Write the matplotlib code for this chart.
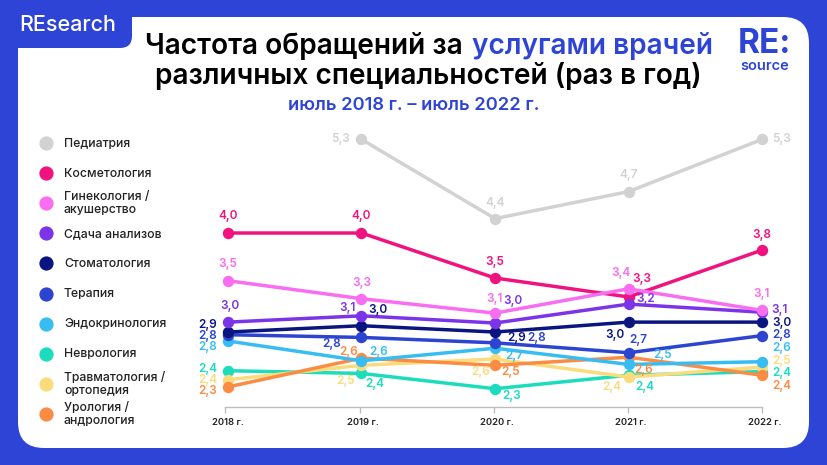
import matplotlib.pyplot as plt
from matplotlib.patches import FancyBboxPatch, Rectangle
from matplotlib.transforms import ScaledTranslation

plt.rcParams['font.family'] = ['Inter', 'DejaVu Sans']

years = ['2018 г.', '2019 г.', '2020 г.', '2021 г.', '2022 г.']

names = ['Педиатрия', 'Косметология', 'Гинекология /\nакушерство', 'Сдача анализов',
         'Стоматология', 'Терапия', 'Эндокринология', 'Неврология',
         'Травматология /\nортопедия', 'Урология /\nандрология']
colors = ['#D2D2D2', '#F0137F', '#F96DF0', '#7B34E8', '#0A1580',
          '#2C44CF', '#38BDF2', '#1BDDBD', '#FBDC7C', '#FB8C44']

# heights as drawn in the picture (the original chart does not follow its own labels exactly)
pediatria = [None, 5.04, 4.16, 4.46, 5.04]
kosmetologia = [4.0, 4.0, 3.5, 3.29, 3.81]
ginekologia = [3.47, 3.27, 3.11, 3.38, 3.14]
analizy = [3.01, 3.08, 3.0, 3.21, 3.12]
stomatologia = [2.9, 2.97, 2.9, 3.01, 3.01]
terapia = [2.87, 2.84, 2.78, 2.67, 2.86]
endokrinologia = [2.8, 2.58, 2.72, 2.54, 2.57]
nevrologia = [2.47, 2.44, 2.27, 2.42, 2.46]
travmatologia = [2.37, 2.53, 2.6, 2.4, 2.51]
urologia = [2.29, 2.61, 2.53, 2.62, 2.42]
series = [pediatria, kosmetologia, ginekologia, analizy, stomatologia,
          terapia, endokrinologia, nevrologia, travmatologia, urologia]

# printed labels
labels = [
    ['', '5,3', '4,4', '4,7', '5,3'],
    ['4,0', '4,0', '3,5', '3,3', '3,8'],
    ['3,5', '3,3', '3,1', '3,4', '3,1'],
    ['3,0', '3,1', '3,0', '3,2', '3,1'],
    ['2,9', '3,0', '2,9', '3,0', '3,0'],
    ['2,8', '2,8', '2,8', '2,7', '2,8'],
    ['2,8', '2,6', '2,7', '2,5', '2,6'],
    ['2,4', '2,4', '2,3', '2,4', '2,4'],
    ['2,4', '2,5', '2,6', '2,4', '2,5'],
    ['2,3', '2,6', '2,5', '2,6', '2,4'],
]

# label offsets from the point, px (x right, y up)
offsets = [
    [(0, 0), (-21, 0), (0, 16), (0, 17), (20, 0)],
    [(0, 17), (0, 17), (0, 16), (13, 18), (0, 15)],
    [(0, 17), (0, 16), (0, 14), (-8, 16), (0, 16)],
    [(2, 16), (-14, 8), (18, 22), (17, 5), (17, 2)],
    [(-20, 7), (16, 16), (22, -6), (-14, -13), (20, -1)],
    [(-20, -1), (-30, -7), (42, 5), (10, 13), (20, 1)],
    [(-20, -6), (17, 9), (19, -8), (34, 9), (20, 14)],
    [(-20, 2), (13, -11), (17, -7), (16, -12), (20, -1)],
    [(-20, 0), (-16, -16), (-14, -13), (-17, -10), (20, 6)],
    [(-20, -4), (-13, 6), (16, -7), (15, -13), (20, -11)],
]

draw_order = [0, 7, 8, 9, 6, 5, 4, 1, 3, 2]

W, H = 828, 465
fig = plt.figure(figsize=(W / 100, H / 100), dpi=100, facecolor='#2D44D6')

# background card and all the text around the chart, in pixel coords
bg = fig.add_axes([0, 0, 1, 1])
bg.set_xlim(0, W)
bg.set_ylim(H, 0)
bg.axis('off')
bg.add_patch(FancyBboxPatch((18, 17), 791, 431, boxstyle='round,pad=0,rounding_size=26',
                            facecolor='white', edgecolor='none'))
bg.add_patch(Rectangle((0, 0), 120, 48, facecolor='#2D44D6', edgecolor='none'))
bg.add_patch(FancyBboxPatch((90, 0), 42, 48, boxstyle='round,pad=0,rounding_size=12',
                            facecolor='#2D44D6', edgecolor='none'))
bg.add_patch(Rectangle((90, 0), 42, 20, facecolor='#2D44D6', edgecolor='none'))

bg.text(68, 25, 'REsearch', color='white', fontsize=15.5, fontweight='medium', ha='center', va='center')
bg.text(463, 46, 'Частота обращений за', color='black', fontsize=20.2, fontweight='semibold', ha='right', va='center')
bg.text(472, 46, 'услугами врачей', color='#2D44D6', fontsize=20.2, fontweight='semibold', ha='left', va='center')
bg.text(428, 76, 'различных специальностей (раз в год)', color='black', fontsize=20.2, fontweight='semibold',
        ha='center', va='center')
bg.text(414, 105, 'июль 2018 г. – июль 2022 г.', color='#2D44D6', fontsize=13.2, fontweight='semibold',
        ha='center', va='center')
bg.text(764, 44, 'RE:', color='#2D44D6', fontsize=24, fontweight='bold', ha='center', va='center')
bg.text(765, 66, 'source', color='#2D44D6', fontsize=10.5, fontweight='semibold', ha='center', va='center')

for i, name in enumerate(names):
    y = 143 + i * 30.1
    bg.scatter([46], [y], s=105, color=colors[i], linewidths=0)
    bg.text(64, y + 0.5, name, color='#222222', fontsize=8.8, fontweight='medium', va='center', linespacing=1.1)

# chart
ax = fig.add_axes([225 / W, 1 - 407 / H, (762 - 225) / W, (407 - 125) / H])
ax.patch.set_alpha(0)
ax.set_xlim(-3 / 133.5, 4)
ax.set_ylim(2.067, 5.2)
for side in ['top', 'left', 'right']:
    ax.spines[side].set_visible(False)
ax.spines['bottom'].set_color('#BDBDBD')
ax.spines['bottom'].set_linewidth(1)
ax.set_yticks([])
ax.set_xticks([-3 / 133.5, 0.99, 1.99, 2.995, 4])
ax.set_xticklabels(years, fontsize=6.8, fontweight='semibold', color='#222222')
ax.tick_params(axis='x', length=4, width=1, color='#BDBDBD', pad=4)
# tick labels sit a little to the right of their ticks in the original
shift = ScaledTranslation(3 / 100, 0, fig.dpi_scale_trans)
for lab in ax.get_xticklabels():
    lab.set_transform(lab.get_transform() + shift)

for i in draw_order:
    xs = [k for k, v in enumerate(series[i]) if v is not None]
    ys = [series[i][k] for k in xs]
    ax.plot(xs, ys, '-o', color=colors[i], linewidth=2.5, markersize=8.2, markeredgewidth=0, clip_on=False)
    for k in xs:
        dx, dy = offsets[i][k]
        ax.annotate(labels[i][k], (k, series[i][k]), xytext=(dx * 0.72, dy * 0.72), textcoords='offset points',
                    color=colors[i], fontsize=8.5, fontweight='semibold', ha='center', va='center',
                    annotation_clip=False, zorder=20)

fig.savefig('out.png', dpi=100, facecolor=fig.get_facecolor())
